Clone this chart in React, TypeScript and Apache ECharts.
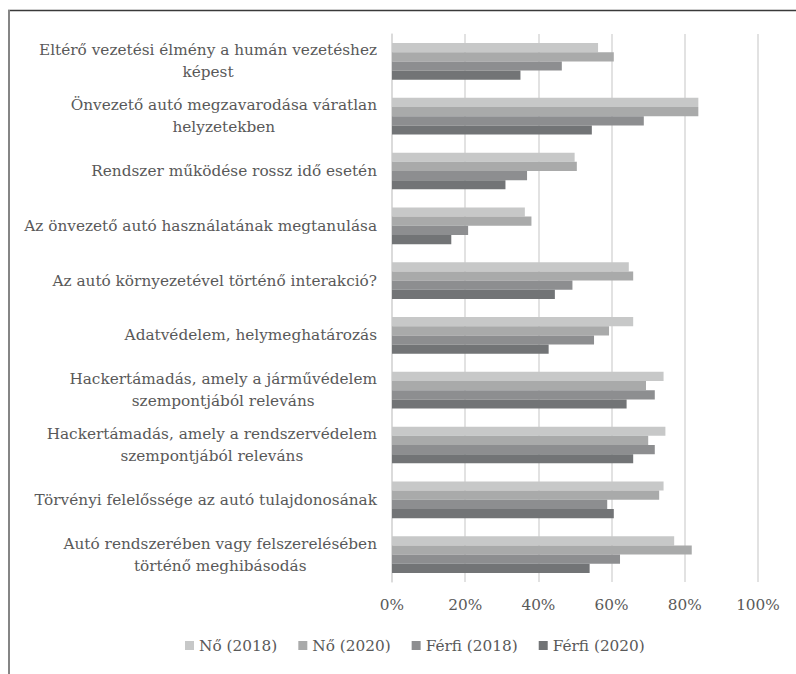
import React, { useEffect, useRef } from "react";
import * as echarts from "echarts";

const categories: string[] = [
  "Eltérő vezetési élmény a humán vezetéshez\nképest",
  "Önvezető autó megzavarodása váratlan\nhelyzetekben",
  "Rendszer működése rossz idő esetén",
  "Az önvezető autó használatának megtanulása",
  "Az autó környezetével történő interakció?",
  "Adatvédelem, helymeghatározás",
  "Hackertámadás, amely a járművédelem\nszempontjából releváns",
  "Hackertámadás, amely a rendszervédelem\nszempontjából releváns",
  "Törvényi felelőssége az autó tulajdonosának",
  "Autó rendszerében vagy felszerelésében\ntörténő meghibásodás",
];

const seriesNames: string[] = ["Nő (2018)", "Nő (2020)", "Férfi (2018)", "Férfi (2020)"];

const no2018: number[] = [0.563, 0.837, 0.499, 0.363, 0.647, 0.659, 0.742, 0.747, 0.742, 0.771];
const no2020: number[] = [0.606, 0.837, 0.505, 0.381, 0.659, 0.593, 0.694, 0.700, 0.730, 0.819];
const ferfi2018: number[] = [0.464, 0.688, 0.369, 0.208, 0.493, 0.552, 0.718, 0.718, 0.588, 0.623];
const ferfi2020: number[] = [0.351, 0.546, 0.310, 0.162, 0.445, 0.428, 0.641, 0.659, 0.606, 0.540];

const xTicks: number[] = [0, 0.2, 0.4, 0.6, 0.8, 1];

const colors = ["#c7c8c8", "#a9aaaa", "#8d8e90", "#727476"];
const FONT = "DejaVu Serif";
const FS = 15.3;
const TEXT = "#595959";

export default function App() {
  const ref = useRef<HTMLDivElement>(null);
  useEffect(() => {
    if (!ref.current) return;
    const chart = echarts.init(ref.current, undefined, { renderer: "svg" });
    const values = [no2018, no2020, ferfi2018, ferfi2020];
    chart.setOption({
      animation: false,
      backgroundColor: "#ffffff",
      textStyle: { fontFamily: FONT },
      grid: {
        left: 392,
        right: 38,
        top: 34,
        bottom: 92,
        containLabel: false,
        outerBoundsMode: "none",
      },
      legend: {
        data: seriesNames,
        left: 180,
        top: 633,
        itemWidth: 9,
        itemHeight: 9,
        itemGap: 21,
        icon: "rect",
        textStyle: { fontFamily: FONT, fontSize: FS, color: TEXT },
      },
      xAxis: {
        type: "value",
        min: 0,
        max: 1,
        interval: 0.2,
        axisLine: { show: false },
        axisTick: { show: false },
        splitLine: { show: true, lineStyle: { color: "#d9d9d9", width: 1.5 } },
        axisLabel: {
          margin: 15,
          fontFamily: FONT,
          fontSize: FS,
          color: TEXT,
          formatter: (v: number) => (xTicks.includes(Math.round(v * 10) / 10) ? Math.round(v * 100) + "%" : ""),
        },
      },
      yAxis: {
        type: "category",
        inverse: true,
        data: categories,
        axisLine: { show: true, lineStyle: { color: "#d9d9d9", width: 1.5 } },
        axisTick: { show: false },
        axisLabel: {
          margin: 15,
          interval: 0,
          fontFamily: FONT,
          fontSize: FS,
          color: TEXT,
          formatter: (v: string) => v.split("\n").map((l) => `{a|${l}}`).join("\n"),
          rich: {
            a: { align: "center", fontFamily: FONT, fontSize: FS, color: TEXT, lineHeight: 22 },
          },
        },
      },
      series: seriesNames.map((name, i) => ({
        name,
        type: "bar",
        data: values[i],
        barGap: "0%",
        barCategoryGap: "33%",
        itemStyle: { color: colors[i] },
      })),
      graphic: [
        { type: "line", shape: { x1: 8, y1: 10.5, x2: 796, y2: 10.5 }, style: { stroke: "#3a3a3a", lineWidth: 1.4 } },
        { type: "line", shape: { x1: 9, y1: 10, x2: 9, y2: 674 }, style: { stroke: "#858585", lineWidth: 2 } },
      ],
    });
    return () => chart.dispose();
  }, []);
  return (
    <div
      ref={ref}
      style={{ position: "fixed", left: 0, top: 0, width: 796, height: 674 }}
    />
  );
}
